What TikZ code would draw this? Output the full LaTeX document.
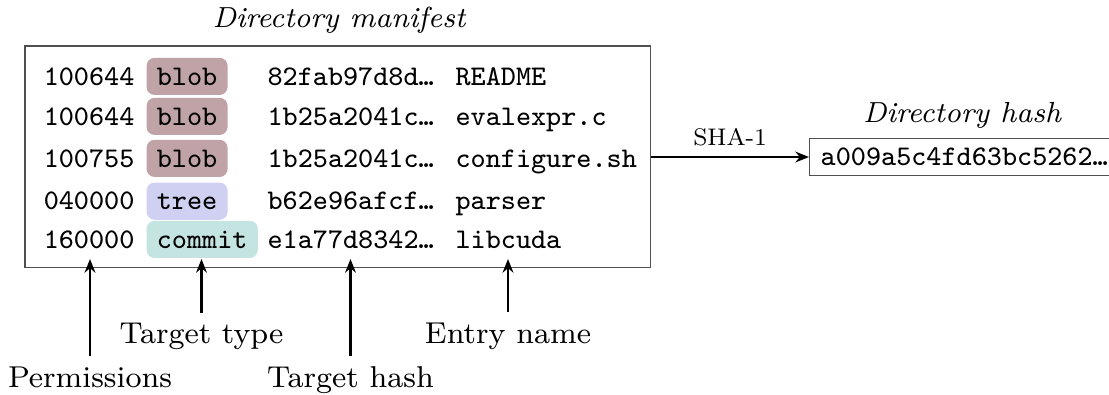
\documentclass[tikz,border=0pt]{standalone}
\usetikzlibrary{arrows.meta,fit}
\definecolor{blobc}{RGB}{192,163,167}
\definecolor{treec}{RGB}{208,208,242}
\definecolor{commitc}{RGB}{196,228,226}
\definecolor{framec}{RGB}{80,80,80}
\newcommand\mytt[1]{\scalebox{1.245}{\footnotesize\ttfamily #1}}
\newcommand\myrm[1]{\scalebox{1.32}{\footnotesize\rmfamily #1}}
\newcommand\myit[1]{\scalebox{1.27}{\footnotesize\itshape #1}}
\begin{document}
\begin{tikzpicture}[x=0.35pt,y=-0.35pt,
  txt/.style={inner sep=0pt},
  pill/.style={rounded corners=2.8pt, inner xsep=3.6pt, inner ysep=0pt, minimum height=13pt, anchor=base west},
  lbl/.style={anchor=base},
  hdr/.style={anchor=base, inner sep=0pt},
  frame/.style={draw=framec, line width=0.5pt},
  ann/.style={line width=0.75pt, -{Stealth[length=4.8pt,width=3.8pt,inset=1.6pt]}},
]
\useasboundingbox (0,0) rectangle (1109,394);

% manifest frame
\node[frame, fit={(25,46) (650.5,267.5)}, inner sep=0pt] (manifest) {};
\node[hdr] (mhdr) at (339,27) {\myit{Directory manifest}};

% rows
\foreach \i/\perm/\typ/\col/\hash/\nm/\bl in {
  1/100644/blob/blobc/82fab97d8d…/README/85,
  2/100644/blob/blobc/1b25a2041c…/evalexpr.c/125,
  3/100755/blob/blobc/1b25a2041c…/configure.sh/167,
  4/040000/tree/treec/b62e96afcf…/parser/209,
  5/160000/commit/commitc/e1a77d8342…/libcuda/248}{
  \node[txt, anchor=base east] (perm\i) at (135,\bl) {\mytt{\perm}};
  \node[pill, fill=\col] (type\i) at (146,\bl) {\mytt{\typ}};
  \node[txt, anchor=base west] (hash\i) at (267,\bl) {\mytt{\hash}};
  \node[txt, anchor=base west] (name\i) at (455,\bl) {\mytt{\nm}};
}

% directory hash
\node[frame, anchor=west, inner xsep=3.85pt, inner ysep=0pt, minimum height=13pt] (dhash) at (809,157) {\mytt{a009a5c4fd63bc5262…}\hspace*{6pt}};
\node[hdr] (dhdr) at (962,122) {\myit{Directory hash}};
\coordinate (shaout) at (manifest.east |- dhash.west);
\draw[ann] (shaout) -- node[midway, above] (sha) {\scalebox{1.05}{\footnotesize SHA-1}} (dhash.west);

% annotations
\coordinate (tperm) at (90,259);
\coordinate (ttype) at (201.5,259);
\coordinate (thash) at (350.5,259);
\coordinate (tname) at (508,259);
\node[lbl] (lperm) at (90,387) {\myrm{Permissions}};
\node[lbl] (ltype) at (201.5,343) {\myrm{Target type}};
\node[lbl] (lhash) at (350.5,387) {\myrm{Target hash}};
\node[lbl] (lname) at (508,343) {\myrm{Entry name}};
\draw[ann] (lperm.north) -- (tperm);
\draw[ann] (ltype.north) -- (ttype);
\draw[ann] (lhash.north) -- (thash);
\draw[ann] (lname.north) -- (tname);
\end{tikzpicture}
\end{document}
